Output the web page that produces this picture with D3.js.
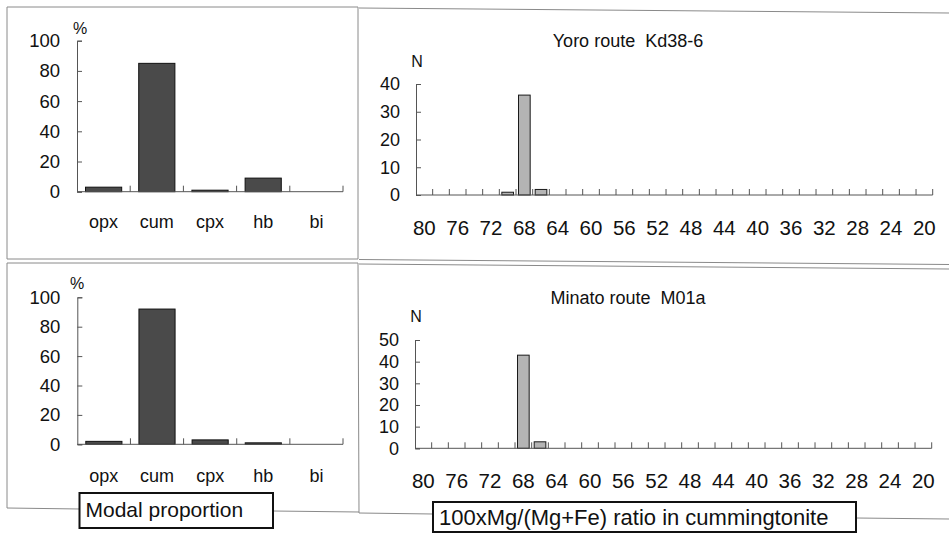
<!DOCTYPE html>
<html><head><meta charset="utf-8">
<script src="https://cdn.jsdelivr.net/npm/d3@7"></script>
<style>
body{margin:0;background:#fff}
svg{display:block}
text{font-family:"Liberation Sans",Arial,sans-serif;fill:#111;white-space:pre}
</style>
</head><body>
<svg id="c" width="949" height="533"></svg>
<script>
// ---------- data ----------
const minerals = ["opx","cum","cpx","hb","bi"];
const modalYoro = [3,85,1,9,0];
const modalMinato = [2,92,3,1,0];
const modalTicks = [0,20,40,60,80,100];

const ratioBins = ["80","78","76","74","72","70","68","66","64","62","60","58","56","54","52","50",
                   "48","46","44","42","40","38","36","34","32","30","28","26","24","22","20"];
const ratioLabels = ["80","76","72","68","64","60","56","52","48","44","40","36","32","28","24","20"];
const countsYoro   = [0,0,0,0,0,1,36,2,0,0,0,0,0,0,0,0,0,0,0,0,0,0,0,0,0,0,0,0,0,0,0];
const countsMinato = [0,0,0,0,0,0,43,3,0,0,0,0,0,0,0,0,0,0,0,0,0,0,0,0,0,0,0,0,0,0,0];
const yoroTicks = [0,10,20,30,40];
const minatoTicks = [0,10,20,30,40,50];
const titles = ["Yoro route  Kd38-6","Minato route  M01a"];
const captions = ["Modal proportion","100xMg/(Mg+Fe) ratio in cummingtonite"];

// ---------- drawing ----------
const svg = d3.select("#c");
const frame = svg.append("g").attr("stroke","#8a8a8a").attr("stroke-width",1).attr("fill","none");
[[7,7,358,7],[7,7,7,259],[7,259,358,259],[358,7,358,259],
 [359,8,949,13],[359,259.5,949,264.5],
 [7,263,358,263],[7,263,7,508],[7,508,80,509],[273,511,359,512],[358,263,359,513],
 [359,264,949,269],[359,513,433,514],[856,518,949,519]
].forEach(l=>frame.append("line").attr("x1",l[0]).attr("y1",l[1]).attr("x2",l[2]).attr("y2",l[3]));

function modalChart(vals, left, right, top, bottom, labelBase, pct){
  const g = svg.append("g");
  const x = d3.scaleBand().domain(minerals).range([left,right]).padding(0);
  const y = d3.scaleLinear().domain([0,100]).range([bottom,top]);
  g.selectAll("rect").data(minerals).join("rect")
    .attr("x", d=>x(d)+x.bandwidth()*0.16).attr("width", x.bandwidth()*0.68)
    .attr("y",(d,i)=>y(vals[i])).attr("height",(d,i)=>y(0)-y(vals[i]))
    .attr("fill","#4a4a4a").attr("stroke","#111").attr("stroke-width",1);
  const ya = g.append("g").attr("transform",`translate(${left},0)`)
    .call(d3.axisLeft(y).tickValues(modalTicks).tickSize(-5).tickPadding(17));
  ya.selectAll("text").attr("font-size",18.5).attr("font-family","Liberation Sans, Arial, sans-serif").attr("fill","#111");
  ya.selectAll("line,path").attr("stroke","#555");
  g.append("line").attr("x1",left).attr("x2",right).attr("y1",y(0)).attr("y2",y(0)).attr("stroke","#555");
  g.selectAll("line.bt").data(minerals).join("line").attr("class","bt")
    .attr("x1",d=>x(d)+x.bandwidth()).attr("x2",d=>x(d)+x.bandwidth())
    .attr("y1",y(0)).attr("y2",y(0)-6).attr("stroke","#555");
  g.selectAll("text.cat").data(minerals).join("text").attr("class","cat")
    .attr("x",d=>x(d)+x.bandwidth()/2).attr("y",labelBase)
    .attr("text-anchor","middle").attr("font-size",18).text(d=>d);
  g.append("text").attr("x",pct[0]).attr("y",pct[1]).attr("text-anchor","middle")
    .attr("dy","0.35em").attr("font-size",16).text("%");
}

function histChart(vals, ticks, left, right, yTop, bottom, title, titleBase, nY, labelBase){
  const g = svg.append("g");
  const x = d3.scaleBand().domain(ratioBins).range([left,right]).padding(0);
  const y = d3.scaleLinear().domain([0,d3.max(ticks)]).range([bottom,yTop]);
  g.selectAll("rect").data(ratioBins.map((b,i)=>({b,v:vals[i]})).filter(d=>d.v>0)).join("rect")
    .attr("x",d=>x(d.b)+x.bandwidth()*0.15).attr("width",x.bandwidth()*0.7)
    .attr("y",d=>y(d.v)).attr("height",d=>y(0)-y(d.v))
    .attr("fill","#b4b4b4").attr("stroke","#1a1a1a").attr("stroke-width",1);
  const ya = g.append("g").attr("transform",`translate(${left},0)`)
    .call(d3.axisLeft(y).tickValues(ticks).tickSize(-5).tickPadding(16));
  ya.selectAll("text").attr("font-size",18).attr("font-family","Liberation Sans, Arial, sans-serif").attr("fill","#111");
  ya.selectAll("line,path").attr("stroke","#555");
  g.append("line").attr("x1",left).attr("x2",right).attr("y1",y(0)).attr("y2",y(0)).attr("stroke","#555");
  g.selectAll("line.bt").data(ratioBins).join("line").attr("class","bt")
    .attr("x1",d=>x(d)+x.bandwidth()).attr("x2",d=>x(d)+x.bandwidth())
    .attr("y1",y(0)).attr("y2",y(0)-6).attr("stroke","#555");
  g.selectAll("text.lab").data(ratioLabels).join("text").attr("class","lab")
    .attr("x",d=>x(d)+x.bandwidth()/2).attr("y",labelBase)
    .attr("text-anchor","middle").attr("font-size",20.5).text(d=>d);
  g.append("text").attr("x",628).attr("y",titleBase).attr("text-anchor","middle")
    .attr("font-size",18).text(title);
  g.append("text").attr("x",left+1).attr("y",nY).attr("text-anchor","middle")
    .attr("dy","0.35em").attr("font-size",16).text("N");
}

modalChart(modalYoro, 77, 343, 40.7, 191.7, 228, [80,28]);
modalChart(modalMinato, 77.3, 343, 297.3, 444.3, 481.7, [77,283]);
histChart(countsYoro, yoroTicks, 416, 932.7, 84, 195, titles[0], 47, 61, 235);
histChart(countsMinato, minatoTicks, 415, 931.7, 340, 448.3, titles[1], 304, 316.7, 488);

// caption boxes
function caption(txt, x0, y0, x1, y1, base, fs){
  svg.append("rect").attr("x",x0).attr("y",y0).attr("width",x1-x0).attr("height",y1-y0)
    .attr("fill","#fff").attr("stroke","#111").attr("stroke-width",2);
  svg.append("text").attr("x",x0+6).attr("y",base).attr("font-size",fs).text(txt);
}
caption(captions[0], 79.5, 493, 273, 528, 517, 21);
caption(captions[1], 433, 502, 856, 532, 525, 22);
</script>
</body></html>
